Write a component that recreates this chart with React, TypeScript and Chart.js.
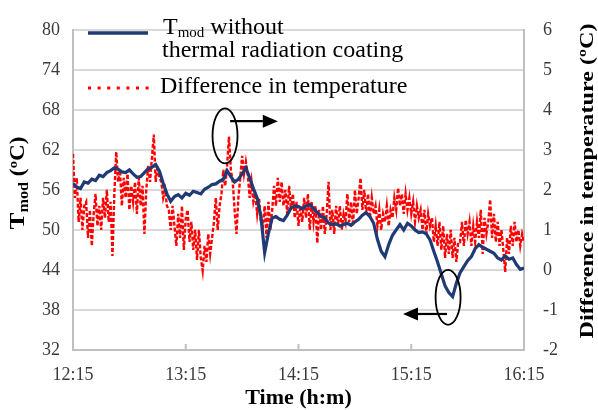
import React, { useEffect, useRef } from "react";
import { Chart, registerables } from "chart.js";

Chart.register(...registerables);

// ---------- data ----------
const timeLabels = ["12:15", "13:15", "14:15", "15:15", "16:15"];
const tickMinutes = [0, 60, 120, 180, 240];
const leftTickValues = [32, 38, 44, 50, 56, 62, 68, 74, 80];
const rightTickValues = [-2, -1, 0, 1, 2, 3, 4, 5, 6];

// T_mod without thermal radiation coating (ºC), one reading every 2 minutes from 12:15
const tmodStepMin = 2;
const tmodValues = [
  57.0, 56.4, 56.2, 57.2, 57.0, 57.6, 57.4, 58.2, 58.0, 58.6,
  58.9, 59.3, 59.1, 58.7, 58.6, 59.0, 58.4, 57.9, 58.0, 58.6,
  59.2, 59.4, 59.8, 58.8, 57.0, 55.4, 54.3, 55.0, 55.3, 54.8,
  55.5, 55.2, 55.8, 55.6, 55.4, 56.1, 56.4, 56.8, 56.9, 57.3,
  57.6, 58.9, 58.0, 57.2, 57.6, 58.4, 59.3, 57.8, 56.2, 54.8,
  52.0, 46.6, 49.5, 51.8, 52.0, 51.6, 51.4, 52.2, 53.3, 53.6,
  53.5, 53.2, 53.6, 53.8, 53.2, 52.6, 52.0, 51.8, 51.0, 50.8,
  50.9, 50.6, 50.8, 51.0, 50.7, 51.2, 51.6, 52.2, 52.6, 52.0,
  51.0, 48.6, 46.8, 46.0, 47.8, 49.2, 50.0, 50.8, 50.0, 51.0,
  50.6, 50.0, 49.6, 49.7, 49.4, 48.5, 46.8, 45.2, 43.4, 41.6,
  40.6, 40.0, 42.0, 43.6, 44.5, 45.4, 46.0, 47.2, 47.8, 47.4,
  47.1, 46.8, 46.5, 45.8, 45.5, 46.1, 45.6, 45.8, 44.8, 44.1,
  44.3,
];

// Difference in temperature (ºC), one reading every minute from 12:15
const diffStepMin = 1;
const diffValues = [
  2.9, 1.8, 2.3, 1.2, 1.8, 1.0, 1.6, 1.7, 0.8, 1.5,
  0.6, 1.4, 1.9, 1.1, 1.6, 1.0, 1.8, 1.3, 2.0, 1.2,
  1.7, 0.35, 1.9, 2.95, 2.2, 2.5, 1.6, 2.3, 1.8, 2.4,
  1.5, 2.1, 1.7, 2.2, 1.4, 2.3, 1.6, 2.1, 0.9, 2.0,
  2.6, 2.2, 2.8, 3.38, 2.2, 2.6, 2.3, 2.2, 1.8, 2.0,
  1.6, 1.5, 1.0, 1.6, 1.1, 0.6, 1.4, 0.8, 1.6, 0.5,
  1.3, 1.5, 0.7, 1.2, 0.5, 1.0, 0.25, 1.0, 0.3, -0.02,
  0.6, 0.2, 0.9, 0.4, 0.8, 1.2, 1.8, 1.0, 1.6, 1.9,
  2.5, 2.1, 2.6, 3.33, 2.5, 2.2, 1.5, 0.9, 1.8, 2.3,
  2.85, 2.4, 2.7, 2.4, 1.8, 2.2, 1.7, 1.9, 1.4, 1.8,
  1.2, 1.1, 1.6, 0.8, 1.7, 1.0, 1.5, 2.1, 1.6, 2.3,
  1.7, 2.2, 1.6, 2.0, 1.4, 2.1, 1.5, 1.9, 1.3, 1.7,
  1.1, 1.6, 1.2, 1.8, 1.3, 1.9, 1.0, 1.7, 1.2, 1.6,
  0.67, 1.5, 1.0, 1.6, 0.9, 1.4, 2.2, 1.0, 1.5, 0.9,
  1.6, 1.1, 1.6, 1.0, 1.4, 1.2, 1.9, 1.2, 1.7, 1.1,
  2.0, 1.4, 1.8, 2.3, 1.5, 2.0, 1.4, 1.9, 1.3, 1.8,
  1.4, 1.6, 1.1, 1.5, 1.0, 1.4, 1.2, 1.6, 1.1, 1.5,
  1.3, 1.8, 1.5, 2.05, 1.6, 1.9, 1.4, 1.9, 1.5, 1.8,
  1.4, 1.7, 1.2, 1.6, 1.3, 1.5, 1.0, 1.5, 0.9, 1.4,
  1.1, 1.3, 0.7, 1.1, 0.6, 1.2, 0.5, 1.1, 0.3, 0.9,
  0.4, 1.0, 0.3, 0.8, 0.2, 0.7, 0.7, 1.2, 0.6, 1.25,
  0.9, 1.2, 0.6, 1.1, 0.7, 1.2, 0.8, 1.5, 0.4, 1.3,
  0.9, 1.2, 1.76, 0.8, 1.4, 0.7, 1.2, 0.6, 1.0, 0.5,
  -0.05, 0.8, 0.4, 1.1, 0.6, 1.2, 0.7, 1.0, 0.6, 0.9,
  0.7,
];

// annotation marks (minutes from 12:15, T_mod axis value)
const ellipseCenters = [
  { t: 80.9, v: 64.1 },
  { t: 199.6, v: 39.9 },
];
const arrowLines = [
  { t0: 83.6, t1: 109.0, v: 66.3 },
  { t0: 199.0, t1: 175.6, v: 37.4 },
];

const SERIF = "'Liberation Serif', 'Times New Roman', Times, serif";
const BLUE = "#1f3a75";
const RED = "#ff0000";
const GRID = "#d9d9d9";
const AXIS = "#bfbfbf";
const TEXT = "#3a3a3a";

const overlayPlugin = {
  id: "overlay",
  afterDatasetsDraw(chart: any) {
    const ctx = chart.ctx;
    const x = chart.scales.x;
    const y = chart.scales.y;
    const area = chart.chartArea;
    ctx.save();
    // inward tick marks on the time axis
    ctx.strokeStyle = AXIS;
    ctx.lineWidth = 2;
    tickMinutes.forEach((m) => {
      const px = x.getPixelForValue(m);
      ctx.beginPath();
      ctx.moveTo(px, area.bottom);
      ctx.lineTo(px, area.bottom - 6);
      ctx.stroke();
    });
    // ellipses
    ctx.strokeStyle = "#000";
    ctx.lineWidth = 1.8;
    ellipseCenters.forEach((e) => {
      ctx.beginPath();
      ctx.ellipse(x.getPixelForValue(e.t), y.getPixelForValue(e.v), 12.5, 27.5, 0, 0, Math.PI * 2);
      ctx.stroke();
    });
    // arrows
    ctx.fillStyle = "#000";
    arrowLines.forEach((a) => {
      const x0 = x.getPixelForValue(a.t0);
      const x1 = x.getPixelForValue(a.t1);
      const py = y.getPixelForValue(a.v);
      const dir = x1 > x0 ? 1 : -1;
      const head = 15;
      ctx.lineWidth = 2.2;
      ctx.beginPath();
      ctx.moveTo(x0, py);
      ctx.lineTo(x1 - dir * head, py);
      ctx.stroke();
      ctx.beginPath();
      ctx.moveTo(x1, py);
      ctx.lineTo(x1 - dir * head, py - 6.5);
      ctx.lineTo(x1 - dir * head, py + 6.5);
      ctx.closePath();
      ctx.fill();
    });
    ctx.restore();
  },
  afterDraw(chart: any) {
    const ctx = chart.ctx;
    const area = chart.chartArea;
    ctx.save();
    // legend
    const lx = area.left + 15;
    ctx.strokeStyle = BLUE;
    ctx.lineWidth = 3.5;
    ctx.beginPath();
    ctx.moveTo(lx, 33);
    ctx.lineTo(lx + 60, 33);
    ctx.stroke();
    ctx.fillStyle = RED;
    for (let i = 0; i < 7; i++) {
      ctx.fillRect(lx + i * 9.6, 86.5, 3, 3);
    }
    ctx.fillStyle = "#000";
    ctx.textBaseline = "alphabetic";
    ctx.textAlign = "left";
    let tx = lx + 75;
    ctx.font = `24px ${SERIF}`;
    ctx.fillText("T", tx, 33.5);
    tx += ctx.measureText("T").width;
    ctx.font = `15px ${SERIF}`;
    ctx.fillText("mod", tx, 37);
    tx += ctx.measureText("mod").width;
    ctx.font = `24px ${SERIF}`;
    ctx.fillText(" without", tx, 33.5);
    ctx.fillText("thermal radiation coating", lx + 74, 56.5);
    ctx.fillText("Difference in temperature", lx + 72, 93);

    // left axis title
    ctx.save();
    ctx.translate(17, 183);
    ctx.rotate(-Math.PI / 2);
    const parts = [
      { s: "T", f: `bold 22px ${SERIF}`, dy: 0 },
      { s: "mod", f: `bold 14px ${SERIF}`, dy: 4 },
      { s: " (ºC)", f: `bold 20px ${SERIF}`, dy: 0 },
    ];
    let total = 0;
    parts.forEach((p) => {
      ctx.font = p.f;
      total += ctx.measureText(p.s).width;
    });
    const sL = 93 / total;
    ctx.scale(sL, 1);
    let px = -total / 2;
    parts.forEach((p) => {
      ctx.font = p.f;
      ctx.fillText(p.s, px, 7 + p.dy);
      px += ctx.measureText(p.s).width;
    });
    ctx.restore();

    // right axis title
    ctx.save();
    ctx.translate(588, 181);
    ctx.rotate(-Math.PI / 2);
    ctx.font = `bold 19px ${SERIF}`;
    const rt = "Difference in temperature (ºC)";
    const w = ctx.measureText(rt).width;
    ctx.scale(315 / w, 1);
    ctx.textAlign = "center";
    ctx.fillText(rt, 0, 5);
    ctx.restore();

    // bottom axis title
    ctx.font = `bold 22px ${SERIF}`;
    ctx.textAlign = "center";
    ctx.fillText("Time (h:m)", 298.5, 404);
    ctx.restore();
  },
};

export default function App() {
  const ref = useRef<HTMLCanvasElement | null>(null);
  useEffect(() => {
    if (!ref.current) return;
    const tmodPoints = tmodValues.map((v, i) => ({ x: i * tmodStepMin, y: v }));
    const diffPoints = diffValues.map((v, i) => ({ x: i * diffStepMin, y: v }));
    const chart = new Chart(ref.current, {
      type: "line",
      data: {
        datasets: [
          {
            label: "Tmod without thermal radiation coating",
            data: tmodPoints,
            yAxisID: "y",
            borderColor: BLUE,
            borderWidth: 3.2,
            pointRadius: 0,
            tension: 0,
          },
          {
            label: "Difference in temperature",
            data: diffPoints,
            yAxisID: "y2",
            borderColor: RED,
            borderWidth: 2.4,
            borderDash: [4, 2],
            pointRadius: 0,
            tension: 0,
          },
        ],
      },
      options: {
        animation: false,
        responsive: false,
        devicePixelRatio: 1,
        layout: { padding: { top: 20, left: 0, right: 0, bottom: 0 } },
        plugins: { legend: { display: false }, tooltip: { enabled: false }, title: { display: false } },
        scales: {
          x: {
            type: "linear",
            min: 0,
            max: 240,
            afterBuildTicks: (s: any) => {
              s.ticks = tickMinutes.map((v) => ({ value: v }));
            },
            afterFit: (s: any) => {
              s.height = 60;
            },
            grid: { display: false, drawTicks: false },
            border: { display: true, color: AXIS, width: 2 },
            ticks: {
              padding: 14,
              color: TEXT,
              font: { family: SERIF, size: 18 },
              maxRotation: 0,
              autoSkip: false,
              callback: (v: any) => timeLabels[tickMinutes.indexOf(Number(v))] ?? "",
            },
          },
          y: {
            position: "left",
            min: 32,
            max: 80,
            afterBuildTicks: (s: any) => {
              s.ticks = leftTickValues.map((v) => ({ value: v }));
            },
            afterFit: (s: any) => {
              s.width = 73;
            },
            grid: { color: GRID, lineWidth: 2, drawTicks: false },
            border: { display: true, color: AXIS, width: 2 },
            ticks: {
              padding: 13,
              color: TEXT,
              font: { family: SERIF, size: 18 },
              callback: (v: any) => String(v),
            },
          },
          y2: {
            position: "right",
            min: -2,
            max: 6,
            afterBuildTicks: (s: any) => {
              s.ticks = rightTickValues.map((v) => ({ value: v }));
            },
            afterFit: (s: any) => {
              s.width = 74;
            },
            grid: { drawOnChartArea: false, drawTicks: false },
            border: { display: true, color: AXIS, width: 2 },
            ticks: {
              padding: 19,
              color: TEXT,
              font: { family: SERIF, size: 18 },
              callback: (v: any) => String(v),
            },
          },
        },
      },
      plugins: [overlayPlugin],
    } as any);
    return () => chart.destroy();
  }, []);
  return (
    <div style={{ position: "absolute", left: 0, top: 0, width: 598, height: 410, background: "#fff" }}>
      <canvas ref={ref} width={598} height={410} style={{ width: 598, height: 410, display: "block" }} />
    </div>
  );
}
